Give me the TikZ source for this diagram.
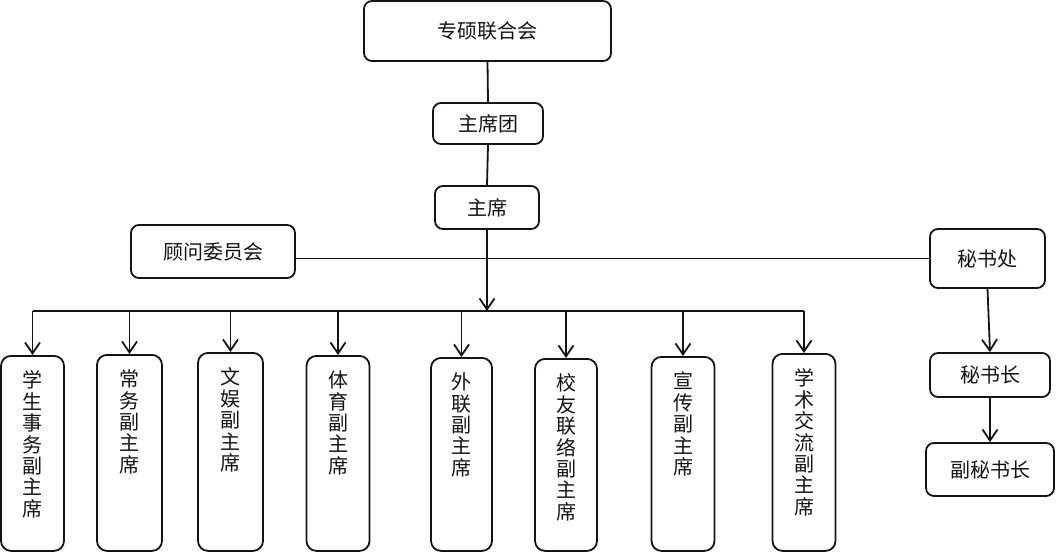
\documentclass[tikz,border=0pt]{standalone}
\usepackage{fontspec}
\setmainfont{Noto Sans CJK SC}
\usetikzlibrary{arrows.meta}

\begin{document}
\begin{tikzpicture}[x=1pt, y=-1pt, >={Straight Barb[length=11pt,width=15pt]},
    line width=1.8pt, font=\fontsize{20}{21.4}\selectfont,
    box/.style={draw=ink, rounded corners=8pt, inner sep=0pt, text=ink},
    vbox/.style={box, rounded corners=10pt, anchor=north, minimum width=63pt},
    vtxt/.style={anchor=north, yshift=-15pt, align=center, inner sep=0pt, text=ink}]
  \definecolor{ink}{HTML}{141414}
  \useasboundingbox[fill=white] (0,0) rectangle (1056,551);

  % top of the chart
  \node[box, minimum width=247pt, minimum height=60pt] (lhh) at (487.5,31) {专硕联合会};
  \node[box, minimum width=110pt, minimum height=41pt] (ztx) at (488,123.5) {主席团};
  \node[box, minimum width=104pt, minimum height=43pt] (zx) at (487,207.5) {主席};
  \node[box, minimum width=164pt, minimum height=53pt] (gw) at (213,251.5) {顾问委员会};
  \node[box, minimum width=115pt, minimum height=59pt] (msc) at (987.5,258.5) {秘书处};
  \node[box, minimum width=120pt, minimum height=44pt] (msz) at (990,375) {秘书长};
  \node[box, minimum width=128pt, minimum height=53pt] (fmsz) at (990,469.5) {副秘书长};
  \coordinate (bus) at (487,311);

  % vice chairs
  \node[vbox, minimum height=195pt, label={[vtxt]north:学\\生\\事\\务\\副\\主\\席}] (xssw) at (32.5,355) {};
  \node[vbox, minimum width=65pt, minimum height=196pt, label={[vtxt]north:常\\务\\副\\主\\席}] (cw) at (129.5,354) {};
  \node[vbox, minimum width=65pt, minimum height=198pt, label={[vtxt]north:文\\娱\\副\\主\\席}] (wy) at (230.5,352) {};
  \node[vbox, minimum height=195pt, label={[vtxt]north:体\\育\\副\\主\\席}] (ty) at (338,355) {};
  \node[vbox, minimum width=61pt, minimum height=193pt, label={[vtxt]north:外\\联\\副\\主\\席}] (wl) at (461.5,357) {};
  \node[vbox, minimum width=62pt, minimum height=192pt, label={[vtxt]north:校\\友\\联\\络\\副\\主\\席}] (xylx) at (566,358) {};
  \node[vbox, minimum height=194pt, label={[vtxt]north:宣\\传\\副\\主\\席}] (xc) at (683,356) {};
  \node[vbox, minimum height=197pt, label={[vtxt]north:学\\术\\交\\流\\副\\主\\席}] (xsjl) at (804,353) {};

  % connectors
  \draw[ink] (lhh.south) -- (ztx.north);
  \draw[ink] (ztx.south) -- (zx.north);
  \draw[ink, ->] (zx.south) -- (bus);
  \draw[ink] (gw.east |- msc.west) -- (msc.west);
  \draw[ink] (xssw.north |- bus) -- (xsjl.north |- bus);
  \draw[ink, ->] (xssw.north |- bus) -- (xssw.north);
  \draw[ink, ->] (cw.north |- bus) -- (cw.north);
  \draw[ink, ->] (wy.north |- bus) -- (wy.north);
  \draw[ink, ->] (ty.north |- bus) -- (ty.north);
  \draw[ink, ->] (wl.north |- bus) -- (wl.north);
  \draw[ink, ->] (xylx.north |- bus) -- (xylx.north);
  \draw[ink, ->] (xc.north |- bus) -- (xc.north);
  \draw[ink, ->] (xsjl.north |- bus) -- (xsjl.north);
  \draw[ink, ->] (msc.south) -- (msz.north);
  \draw[ink, ->] (msz.south) -- (fmsz.north);
\end{tikzpicture}
\end{document}
